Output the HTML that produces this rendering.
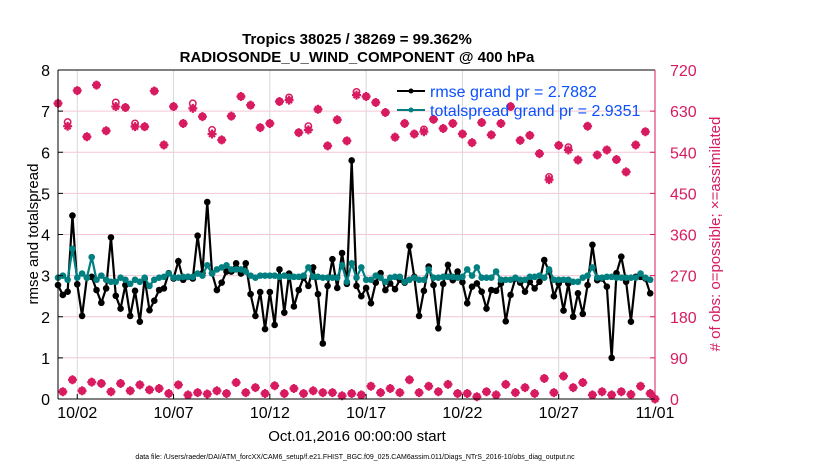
<!DOCTYPE html>
<html><head><meta charset="utf-8"><style>
body{margin:0;background:#fff;}
svg text{font-family:"Liberation Sans",sans-serif;}
</style></head><body>
<svg id="chart" width="830" height="470" xmlns="http://www.w3.org/2000/svg">
<rect width="830" height="470" fill="#fff"/>
<g id="grid"></g>
<g id="series"></g>
<g id="axes"></g>
<text x="357" y="44" text-anchor="middle" font-size="15" font-weight="bold">Tropics 38025 / 38269 = 99.362%</text>
<text x="357" y="62" text-anchor="middle" font-size="15" font-weight="bold">RADIOSONDE_U_WIND_COMPONENT @ 400 hPa</text>
<text transform="translate(38,234) rotate(-90)" text-anchor="middle" font-size="15">rmse and totalspread</text>
<text transform="translate(720,234) rotate(-90)" text-anchor="middle" font-size="15" fill="#d81b60"># of obs: o=possible; ×=assimilated</text>
<text x="357" y="441" text-anchor="middle" font-size="15">Oct.01,2016 00:00:00 start</text>
<text x="355" y="459" text-anchor="middle" font-size="7">data file: /Users/raeder/DAI/ATM_forcXX/CAM6_setup/f.e21.FHIST_BGC.f09_025.CAM6assim.011/Diags_NTrS_2016-10/obs_diag_output.nc</text>
<g>
<line x1="397" y1="91" x2="425" y2="91" stroke="#000" stroke-width="2"/>
<circle cx="411" cy="91" r="2.5" fill="#000"/>
<text x="430" y="97" font-size="16" fill="#0a50ff">rmse grand pr = 2.7882</text>
<line x1="397" y1="110" x2="425" y2="110" stroke="#008080" stroke-width="2"/>
<circle cx="411" cy="110" r="2.5" fill="#008080"/>
<text x="430" y="116" font-size="16" fill="#0a50ff">totalspread grand pr = 2.9351</text>
</g>
</svg>
<script>
const rmse=[2.77,2.53,2.61,4.46,2.79,2.02,2.95,2.97,2.65,2.34,2.69,3.93,2.51,2.2,2.77,2.02,2.63,1.88,2.93,2.16,2.39,2.65,2.69,3.06,2.93,3.35,2.9,2.97,2.93,3.97,3.06,4.79,3.06,2.65,2.83,3.1,3.1,3.3,3.05,3.3,2.55,2.02,2.6,1.7,2.6,1.8,3.15,2.1,3.05,2.25,2.65,2.95,2.75,3.2,2.55,1.35,2.75,3.4,2.7,3.55,2.8,5.8,2.75,2.5,2.7,2.33,2.83,3.06,2.65,2.81,2.67,2.9,2.83,3.72,2.97,2.02,2.63,3.22,2.77,1.72,2.8,3.26,2.89,3.1,2.84,2.33,2.73,2.81,2.61,2.2,2.65,2.63,2.81,1.89,2.53,2.93,2.83,2.61,2.85,2.69,2.85,3.38,3.1,2.5,2.81,2.15,2.81,2.0,2.57,2.07,2.77,3.75,2.89,2.93,2.73,1.0,3.06,3.46,2.85,1.88,2.97,2.97,2.93,2.57];
const spread=[2.95,3.0,2.9,3.65,2.95,3.05,2.95,3.45,2.9,3.0,2.9,2.85,2.85,2.95,2.9,2.8,2.9,2.85,2.95,2.75,2.9,2.95,2.97,3.05,2.95,2.95,2.97,2.97,2.97,3.05,3.0,3.25,3.05,3.15,3.2,3.25,3.15,3.15,3.15,3.1,3.0,2.95,3.0,3.0,3.0,3.0,2.97,3.0,2.97,2.97,2.97,3.0,3.2,2.97,2.97,2.95,2.95,2.95,2.95,3.25,2.85,3.3,2.95,3.2,2.9,2.9,3.0,2.95,2.85,2.95,2.97,2.97,2.85,2.9,2.95,2.9,2.9,3.15,2.95,2.95,2.97,2.97,2.97,2.95,2.97,3.15,3.0,3.2,2.95,2.95,2.95,3.1,2.9,2.9,2.9,2.95,2.9,2.9,2.97,2.97,3.0,2.95,3.15,2.9,2.9,2.9,2.9,2.85,2.85,2.95,3.0,3.2,2.95,2.95,2.97,2.97,2.95,2.95,2.95,2.95,2.95,3.05,2.95,2.9];
const obsAssim=[647,16,597,42,675,18,574,37,687,34,587,16,640,34,638,18,596,31,596,20,674,23,556,12,640,31,603,9,636,14,618,11,580,18,567,12,619,36,662,14,643,25,594,12,603,29,651,12,654,23,583,12,589,18,634,14,554,14,611,7,565,12,665,9,662,28,649,14,627,23,573,14,603,42,580,14,585,28,612,16,592,32,603,12,580,12,561,5,605,16,578,9,603,32,640,14,566,25,577,12,537,45,480,14,555,50,545,25,523,36,597,9,534,16,545,9,524,16,497,10,556,28,585,12,0];
const obsPossible=[647,16,606,42,675,18,574,37,687,34,587,16,649,34,638,18,603,31,596,20,674,23,556,12,640,31,603,9,647,14,618,11,589,18,567,12,619,36,662,14,643,25,594,12,603,29,651,12,660,23,583,12,597,18,634,14,554,14,611,7,565,12,672,9,662,28,649,14,627,23,573,14,603,42,580,14,590,28,612,16,592,32,603,12,580,12,561,5,605,16,578,9,603,32,640,14,566,25,577,12,537,45,486,14,555,50,551,25,523,36,597,9,534,16,545,9,524,16,497,10,556,28,585,12,0];
const dayTicks=[1,6,11,16,21,26,31];
const dayLabels=["10/02","10/07","10/12","10/17","10/22","10/27","11/01"];
const leftTicks=[0,1,2,3,4,5,6,7,8];
const rightTicks=[0,90,180,270,360,450,540,630,720];

const NS="http://www.w3.org/2000/svg";
const X0=58,X1=655,Y0=399,Y1=70;
const xDay=d=>X0+(X1-X0)*d/31;
const xIdx=i=>xDay(i*0.25);
const yL=v=>Y0-(Y0-Y1)*v/8;
const yR=v=>Y0-(Y0-Y1)*v/720;
function mk(tag,attrs,parent){const e=document.createElementNS(NS,tag);for(const k in attrs)e.setAttribute(k,attrs[k]);parent.appendChild(e);return e;}
const grid=document.getElementById('grid'),ser=document.getElementById('series'),ax=document.getElementById('axes');
const MAG="#d81b60";
leftTicks.forEach(v=>{
  if(v>0&&v<8){const l=mk('line',{x1:X0,x2:X1,y1:yL(v),y2:yL(v),stroke:'#f4c6d4','stroke-width':1},grid);
  
  }
  const t=mk('line',{x1:X0,x2:X0+5,y1:yL(v),y2:yL(v),stroke:'#000'},ax);
  
  
  const tx=mk('text',{x:X0-8,y:yL(v)+6,'text-anchor':'end','font-size':16},ax);tx.textContent=v;
  
  
});
rightTicks.forEach(v=>{
  const t=mk('line',{x1:X1-5,x2:X1,y1:yR(v),y2:yR(v),stroke:MAG},ax);
  
  
  const tx=mk('text',{x:X1+15,y:yR(v)+6,'font-size':16,fill:MAG},ax);tx.textContent=v;
  
  
});
dayTicks.forEach((d,k)=>{
  if(d<31){const g=mk('line',{x1:xDay(d),x2:xDay(d),y1:Y1,y2:Y0,stroke:'#d8d8d8'},grid);
  
  }
  const t=mk('line',{x1:xDay(d),x2:xDay(d),y1:Y0,y2:Y0-5,stroke:'#000'},ax);
  
  
  const tx=mk('text',{x:xDay(d),y:Y0+19,'text-anchor':'middle','font-size':16},ax);tx.textContent=dayLabels[k];
  
  
});
const topBorder=mk('line',{x1:X0,x2:X1,y1:Y1,y2:Y1,stroke:'#000'},ax);


const botAxis=mk('line',{x1:X0,x2:X1,y1:Y0,y2:Y0,stroke:'#000'},ax);


const leftAxis=mk('line',{x1:X0,x2:X0,y1:Y1,y2:Y0,stroke:'#000'},ax);


const rightAxis=mk('line',{x1:X1,x2:X1,y1:Y1,y2:Y0,stroke:MAG},ax);



obsPossible.forEach((v,i)=>{
  const x=xIdx(i),y=yR(v);
  const c=mk('circle',{cx:x,cy:y,r:3.2,fill:'none',stroke:MAG,'stroke-width':1.5},ser);
  
  
});
obsAssim.forEach((v,i)=>{
  const x=xIdx(i),y=yR(v);
  const p=mk('path',{d:`M${x-4.5},${y}H${x+4.5}M${x},${y-4.5}V${y+4.5}M${x-3},${y-3}L${x+3},${y+3}M${x-3},${y+3}L${x+3},${y-3}`,stroke:MAG,'stroke-width':2.2},ser);
  
  
});
function series(arr,color,name){
  const pl=mk('polyline',{points:arr.map((v,i)=>xIdx(i)+','+yL(v)).join(' '),fill:'none',stroke:color,'stroke-width':2.2},ser);
  
  
  arr.forEach((v,i)=>{
    const c=mk('circle',{cx:xIdx(i),cy:yL(v),r:3.3,fill:color},ser);
    
    
  });
}
series(rmse,'#000','rmse');
series(spread,'#008080','totalspread');
</script>
</body></html>
